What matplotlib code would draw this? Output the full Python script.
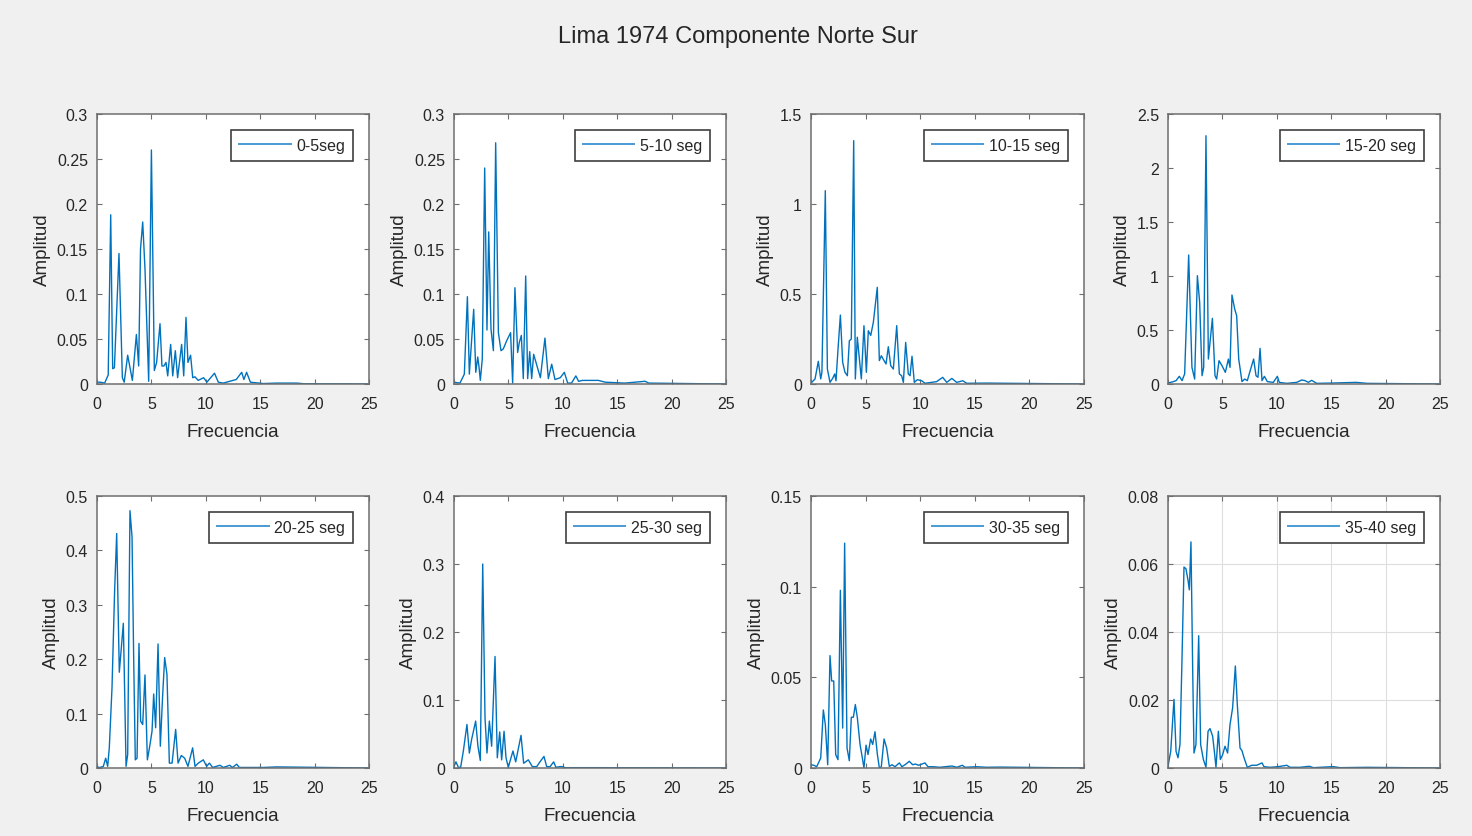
import numpy as np
import matplotlib
matplotlib.use("Agg")
from matplotlib import pyplot as plt
from matplotlib.ticker import FuncFormatter

plt.rcParams["font.family"] = ["Liberation Sans", "DejaVu Sans"]

# Amplitude spectra (frequency, amplitude) for each 5 s window
spec_0_5 = [
    (0, 0.002), (0.3, 0.002), (0.7, 0.001), (1.03, 0.01), (1.26, 0.188), (1.44, 0.017),
    (1.6, 0.018), (2.02, 0.145), (2.33, 0.007), (2.5, 0.002), (2.82, 0.032), (3.25, 0.004),
    (3.62, 0.055), (3.83, 0.02), (4.0, 0.15), (4.2, 0.18), (4.41, 0.128), (4.75, 0.003),
    (5.0, 0.26), (5.27, 0.015), (5.48, 0.024), (5.79, 0.067), (5.97, 0.02), (6.15, 0.02),
    (6.34, 0.024), (6.5, 0.009), (6.77, 0.044), (6.96, 0.009), (7.2, 0.037), (7.41, 0.007),
    (7.78, 0.044), (7.97, 0.009), (8.18, 0.074), (8.36, 0.024), (8.6, 0.032), (8.8, 0.007),
    (9.0, 0.008), (9.3, 0.004), (9.8, 0.007), (10.1, 0.002), (10.8, 0.012), (11.15, 0.002),
    (11.6, 0.001), (12.8, 0.005), (13.3, 0.013), (13.5, 0.005), (13.75, 0.013), (14.1, 0.002),
    (15.3, 0.0005), (16.5, 0.001), (18.35, 0.001), (19.0, 0.0003), (25, 0),
]
spec_5_10 = [
    (0, 0.002), (0.55, 0.001), (0.95, 0.011), (1.23, 0.097), (1.41, 0.011), (1.81, 0.083),
    (2.0, 0.013), (2.18, 0.030), (2.3, 0.019), (2.42, 0.004), (2.6, 0.028), (2.82, 0.24),
    (3.03, 0.060), (3.19, 0.169), (3.4, 0.061), (3.62, 0.037), (3.83, 0.268), (4.08, 0.057),
    (4.32, 0.037), (4.53, 0.039), (4.84, 0.048), (5.2, 0.057), (5.39, 0.001), (5.6, 0.107),
    (5.85, 0.035), (6.0, 0.046), (6.19, 0.054), (6.37, 0.006), (6.59, 0.12), (6.77, 0.006),
    (6.96, 0.036), (7.14, 0.006), (7.32, 0.033), (7.63, 0.02), (7.94, 0.007), (8.36, 0.051),
    (8.67, 0.006), (8.98, 0.022), (9.28, 0.005), (9.77, 0.007), (10.14, 0.013), (10.45, 0.001),
    (10.8, 0.001), (11.2, 0.009), (11.45, 0.003), (11.8, 0.004), (13.27, 0.004), (13.9, 0.002),
    (15.7, 0.001), (17.56, 0.003), (17.9, 0.001), (25, 0),
]
spec_10_15 = [
    (0, 0.005), (0.37, 0.028), (0.67, 0.126), (0.89, 0.028), (1.0, 0.065), (1.31, 1.074),
    (1.5, 0.083), (1.74, 0.009), (1.98, 0.031), (2.17, 0.056), (2.29, 0.018), (2.47, 0.19),
    (2.69, 0.383), (2.9, 0.12), (3.11, 0.065), (3.33, 0.046), (3.51, 0.24), (3.69, 0.25),
    (3.91, 1.352), (4.06, 0.028), (4.24, 0.26), (4.43, 0.139), (4.61, 0.028), (4.85, 0.324),
    (5.07, 0.065), (5.25, 0.296), (5.47, 0.27), (5.71, 0.343), (6.07, 0.537), (6.26, 0.13),
    (6.44, 0.157), (6.69, 0.13), (6.87, 0.111), (7.08, 0.207), (7.3, 0.102), (7.54, 0.083),
    (7.85, 0.324), (8.09, 0.056), (8.3, 0.046), (8.46, 0.009), (8.67, 0.231), (8.91, 0.056),
    (9.07, 0.046), (9.25, 0.154), (9.46, 0.009), (9.74, 0.024), (10.14, 0.018), (10.44, 0.004),
    (11.5, 0.013), (12.06, 0.037), (12.43, 0.009), (12.9, 0.031), (13.34, 0.009), (13.9, 0.018),
    (14.26, 0.004), (16.1, 0.005), (25, 0),
]
spec_15_20 = [
    (0, 0.009), (0.43, 0.02), (0.74, 0.031), (1.04, 0.071), (1.29, 0.031), (1.53, 0.093),
    (1.9, 1.194), (2.2, 0.154), (2.45, 0.046), (2.7, 1.003), (2.91, 0.756), (3.13, 0.077),
    (3.28, 0.154), (3.49, 2.299), (3.71, 0.231), (4.08, 0.608), (4.32, 0.077), (4.47, 0.046),
    (4.69, 0.216), (4.96, 0.17), (5.27, 0.108), (5.55, 0.231), (5.7, 0.154), (5.88, 0.824),
    (6.13, 0.694), (6.31, 0.633), (6.5, 0.231), (6.8, 0.022), (7.05, 0.046), (7.29, 0.031),
    (7.6, 0.139), (7.87, 0.231), (8.09, 0.077), (8.27, 0.062), (8.46, 0.33), (8.64, 0.031),
    (8.86, 0.071), (9.13, 0.022), (9.68, 0.015), (10.05, 0.071), (10.23, 0.015), (10.9, 0.006),
    (11.83, 0.015), (12.29, 0.037), (12.6, 0.031), (12.9, 0.015), (13.2, 0.034), (13.67, 0.006),
    (15.2, 0.009), (17.3, 0.015), (18.3, 0.006), (25, 0),
]
spec_20_25 = [
    (0, 0.002), (0.28, 0.001), (0.58, 0.003), (0.8, 0.018), (0.98, 0.003), (1.13, 0.037),
    (1.38, 0.148), (1.62, 0.326), (1.81, 0.431), (2.05, 0.176), (2.24, 0.222), (2.42, 0.266),
    (2.54, 0.142), (2.67, 0.003), (2.82, 0.025), (3.03, 0.473), (3.22, 0.425), (3.37, 0.203),
    (3.52, 0.015), (3.68, 0.018), (3.86, 0.229), (4.01, 0.086), (4.2, 0.08), (4.41, 0.171),
    (4.63, 0.015), (4.87, 0.043), (5.06, 0.068), (5.21, 0.136), (5.39, 0.074), (5.61, 0.228),
    (5.82, 0.04), (6.04, 0.136), (6.22, 0.203), (6.43, 0.172), (6.65, 0.009), (6.9, 0.009),
    (7.23, 0.071), (7.45, 0.009), (7.75, 0.023), (8.06, 0.018), (8.36, 0.003), (8.79, 0.037),
    (9.01, 0.003), (9.31, 0.009), (9.77, 0.015), (10.08, 0.003), (10.33, 0.009), (10.63, 0.001),
    (11.3, 0.005), (11.61, 0.001), (12.2, 0.005), (12.45, 0.001), (12.84, 0.007), (13.08, 0.001),
    (15.3, 0.001), (16.5, 0.002), (25, 0),
]
spec_25_30 = [
    (0, 0.0025), (0.18, 0.009), (0.4, 0.001), (0.61, 0.001), (0.86, 0.025), (1.19, 0.064),
    (1.41, 0.022), (1.62, 0.042), (1.99, 0.069), (2.2, 0.032), (2.42, 0.011), (2.64, 0.3),
    (2.85, 0.074), (3.03, 0.022), (3.25, 0.069), (3.46, 0.032), (3.77, 0.164), (3.98, 0.015),
    (4.2, 0.053), (4.38, 0.012), (4.6, 0.054), (4.78, 0.015), (4.99, 0.001), (5.42, 0.025),
    (5.67, 0.009), (6.16, 0.048), (6.4, 0.007), (6.83, 0.012), (7.2, 0.002), (7.6, 0.002),
    (7.9, 0.009), (8.27, 0.017), (8.52, 0.002), (8.83, 0.002), (9.16, 0.009), (9.37, 0.001),
    (9.74, 0.002), (9.96, 0.002), (10.2, 0.0005), (13.0, 0.0005), (25, 0),
]
spec_30_35 = [
    (0, 0.0018), (0.27, 0.0015), (0.52, 0.0007), (0.7, 0.003), (0.89, 0.0055), (1.13, 0.032),
    (1.31, 0.024), (1.53, 0.0018), (1.74, 0.062), (1.89, 0.048), (2.08, 0.048), (2.26, 0.0074),
    (2.47, 0.0046), (2.69, 0.098), (2.9, 0.022), (3.08, 0.124), (3.3, 0.011), (3.51, 0.004),
    (3.69, 0.028), (3.88, 0.028), (4.06, 0.035), (4.24, 0.028), (4.49, 0.013), (4.73, 0.0046),
    (4.85, 0.0), (5.04, 0.0126), (5.22, 0.0074), (5.46, 0.016), (5.65, 0.013), (5.86, 0.02),
    (6.08, 0.0074), (6.26, 0.0), (6.44, 0.0007), (6.69, 0.016), (6.93, 0.011), (7.17, 0.0009),
    (7.42, 0.0018), (7.69, 0.0007), (8.09, 0.0028), (8.33, 0.0007), (8.7, 0.0022), (9.0, 0.0037),
    (9.31, 0.0018), (9.55, 0.0022), (9.86, 0.0015), (10.44, 0.0028), (10.71, 0.0007), (11.2, 0.0007),
    (11.8, 0.0004), (12.9, 0.0011), (13.36, 0.0004), (13.86, 0.0015), (14.1, 0.0004), (15.17, 0.0007),
    (16.1, 0.0004), (17.3, 0.0005), (25, 0),
]
spec_35_40 = [
    (0, 0.0005), (0.25, 0.0049), (0.55, 0.0202), (0.74, 0.0049), (0.92, 0.003), (1.1, 0.0069),
    (1.29, 0.0325), (1.47, 0.0591), (1.65, 0.0586), (1.84, 0.0552), (1.96, 0.0524), (2.11, 0.0665),
    (2.27, 0.0286), (2.39, 0.0044), (2.57, 0.0069), (2.82, 0.0389), (3.0, 0.0069), (3.25, 0.0025),
    (3.49, 0.0002), (3.68, 0.0108), (3.86, 0.0116), (4.1, 0.0094), (4.26, 0.0049), (4.41, 0.0002),
    (4.63, 0.0108), (4.81, 0.0025), (5.02, 0.0039), (5.24, 0.0064), (5.48, 0.0044), (5.7, 0.0128),
    (5.94, 0.0177), (6.19, 0.03), (6.37, 0.0187), (6.62, 0.0059), (6.8, 0.0051), (6.99, 0.003),
    (7.29, 0.0002), (7.69, 0.0008), (8.15, 0.0008), (8.64, 0.0015), (8.82, 0.0004), (9.37, 0.0002),
    (10.14, 0.0004), (10.91, 0.0008), (11.22, 0.0002), (12.13, 0.0002), (13.0, 0.0005), (13.36, 0.0001),
    (15.2, 0.0004), (15.8, 0.0001), (18.3, 0.0002), (25, 0),
]

spectra = [spec_0_5, spec_5_10, spec_10_15, spec_15_20,
           spec_20_25, spec_25_30, spec_30_35, spec_35_40]
labels = ["0-5seg", "5-10 seg", "10-15 seg", "15-20 seg",
          "20-25 seg", "25-30 seg", "30-35 seg", "35-40 seg"]
y_max = [0.3, 0.3, 1.5, 2.5, 0.5, 0.4, 0.15, 0.08]
y_step = [0.05, 0.05, 0.5, 0.5, 0.1, 0.1, 0.05, 0.02]
x_ticks = [0, 5, 10, 15, 20, 25]

LINE = "#0072BD"
TXT = "#262626"
AXC = "#6e6e6e"

W, H = 1472, 837
fig = plt.figure(figsize=(W / 100, H / 100), dpi=100, facecolor="#f0f0f0")

# subplot boxes in pixels (left, right) / (top, bottom)
cols = [(97, 369), (454, 726), (811, 1084), (1168, 1440)]
rows = [(115, 385), (497, 769)]

for i, spec in enumerate(spectra):
    r, c = divmod(i, 4)
    (x0, x1), (y0, y1) = cols[c], rows[r]
    ax = fig.add_axes([x0 / W, 1 - y1 / H, (x1 - x0) / W, (y1 - y0) / H])
    f, a = np.array(spec).T
    ax.plot(f, a, color=LINE, lw=1.0, label=labels[i])

    ax.set_xlim(0, 25)
    ax.set_ylim(0, y_max[i])
    ax.set_xticks(x_ticks)
    ax.set_yticks(np.arange(0, y_max[i] + y_step[i] / 2, y_step[i]))
    ax.yaxis.set_major_formatter(FuncFormatter(lambda v, p: "%g" % round(v, 4)))

    for s in ax.spines.values():
        s.set_color(AXC)
        s.set_linewidth(1.1)
    ax.tick_params(direction="in", top=True, right=True, length=3.5, width=0.8,
                   color=AXC, labelcolor=TXT, labelsize=11.5)
    ax.tick_params(axis="x", pad=9)
    ax.tick_params(axis="y", pad=6.5)

    ax.set_xlabel("Frecuencia", fontsize=13.5, color=TXT, labelpad=8)
    ax.set_ylabel("Amplitud", fontsize=13.5, color=TXT, labelpad=4)

    if i == 7:
        ax.grid(True, color="#dedede", lw=0.8)
        ax.set_axisbelow(True)

    leg = ax.legend(loc="upper right", fontsize=11.5, fancybox=False, framealpha=1,
                    edgecolor="#404040", handlelength=3.2, handletextpad=0.35,
                    borderpad=0.5, borderaxespad=1.0)
    leg.get_frame().set_linewidth(1.2)
    for h in leg.get_lines():
        h.set_color("#4a9ad4")
        h.set_linewidth(1.4)
    for t in leg.get_texts():
        t.set_color(TXT)

fig.text(738 / W, 1 - 37 / H, "Lima 1974 Componente Norte Sur", ha="center",
         va="center", fontsize=17, color=TXT)

fig.savefig("out.png", dpi=100, facecolor=fig.get_facecolor())
